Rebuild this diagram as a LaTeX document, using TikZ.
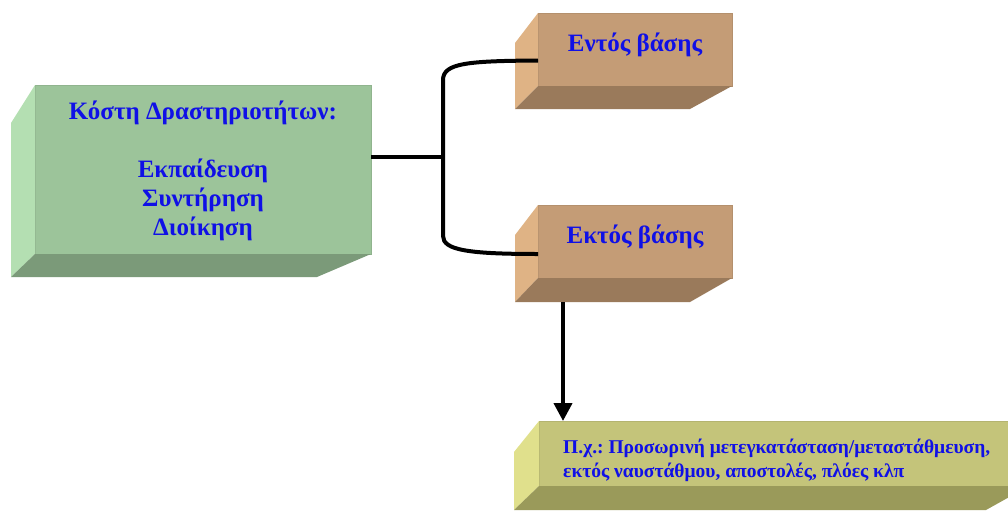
\documentclass[tikz,border=0pt]{standalone}
\usepackage{fontspec}
\setmainfont{Liberation Serif}
\usetikzlibrary{arrows.meta,calc}
\frenchspacing
\definecolor{gfront}{HTML}{9CC49A}
\definecolor{gside}{HTML}{B4DFB2}
\definecolor{gbot}{HTML}{7B9A79}
\definecolor{ofront}{HTML}{C49C76}
\definecolor{oside}{HTML}{DFB385}
\definecolor{obot}{HTML}{9A7A5B}
\definecolor{yfront}{HTML}{C4C47A}
\definecolor{yside}{HTML}{E0E08C}
\definecolor{ybot}{HTML}{9A9A5A}
\definecolor{tblue}{HTML}{1010E6}
\tikzset{
  face/.style={rectangle,inner sep=0pt,outer sep=0pt},
  lbl/.style={text=tblue,font=\bfseries\fontsize{25}{29}\selectfont,inner sep=0pt},
  slbl/.style={text=tblue,font=\bfseries\fontsize{19.5}{24}\selectfont,inner sep=0pt,align=left},
  conn/.style={line width=4pt,draw=black},
}
\begin{document}
\frenchspacing
\begin{tikzpicture}[x=1pt,y=-1pt]
\useasboundingbox (0,0) rectangle (1008,511);
\clip (0,0) rectangle (1008,511);
% green box
\node[face,fill=gfront,draw=gfront!92!black,line width=0.5pt,minimum width=336pt,minimum height=169pt,anchor=north west] (green) at (35,85) {};
\fill[gside] (green.north west) -- (11,123) -- (11,277) -- (green.south west) -- cycle;
\fill[gbot] (green.south west) -- (green.south east) -- (317,277) -- (11,277) -- cycle;
\node[lbl,align=center] (greentxt) at (203,171) {Κόστη Δραστηριοτήτων:\\[29pt]Εκπαίδευση\\Συντήρηση\\Διοίκηση};
% entos
\node[face,fill=ofront,draw=ofront!92!black,line width=0.5pt,minimum width=194pt,minimum height=73pt,anchor=north west] (entos) at (538,13) {};
\fill[oside] (entos.north west) -- (515,43) -- (515,109) -- (entos.south west) -- cycle;
\fill[obot] (entos.south west) -- (entos.south east) -- (690,109) -- (515,109) -- cycle;
\node[lbl] (entostxt) at (635,45) {Εντός βάσης};
% ektos
\node[face,fill=ofront,draw=ofront!92!black,line width=0.5pt,minimum width=194pt,minimum height=73pt,anchor=north west] (ektos) at (538,205) {};
\fill[oside] (ektos.north west) -- (515,235) -- (515,302) -- (ektos.south west) -- cycle;
\fill[obot] (ektos.south west) -- (ektos.south east) -- (690,302) -- (515,302) -- cycle;
\node[lbl] (ektostxt) at (635,237) {Εκτός βάσης};
\coordinate (ektosb) at (563,302);
% yellow
\node[face,fill=yfront,draw=yfront!92!black,line width=0.5pt,minimum width=490pt,minimum height=65pt,anchor=north west] (yellow) at (539,421) {};
\fill[yside] (yellow.north west) -- (514,452) -- (514,510) -- (yellow.south west) -- cycle;
\fill[ybot] (yellow.south west) -- (yellow.south east) -- (986,510) -- (514,510) -- cycle;
\node[slbl,anchor=west] (ytxt) at (563,460) {Π.χ.: Προσωρινή μετεγκατάσταση/μεταστάθμευση,\\εκτός ναυστάθμου, αποστολές, πλόες κλπ};
% connectors
\coordinate (junc) at (443,157);
\draw[conn] ([yshift=12.5pt]green.east) -- (junc);
\draw[conn] ([yshift=-11pt]entos.west) .. controls (468,61) and (443,63) .. (443,80) -- (443,236) .. controls (443,250) and (468,254) .. ([yshift=-12.5pt]ektos.west);
\draw[conn,-{Triangle[length=18pt,width=18pt]}] (ektosb) -- (yellow.north -| ektosb);
\end{tikzpicture}
\end{document}
